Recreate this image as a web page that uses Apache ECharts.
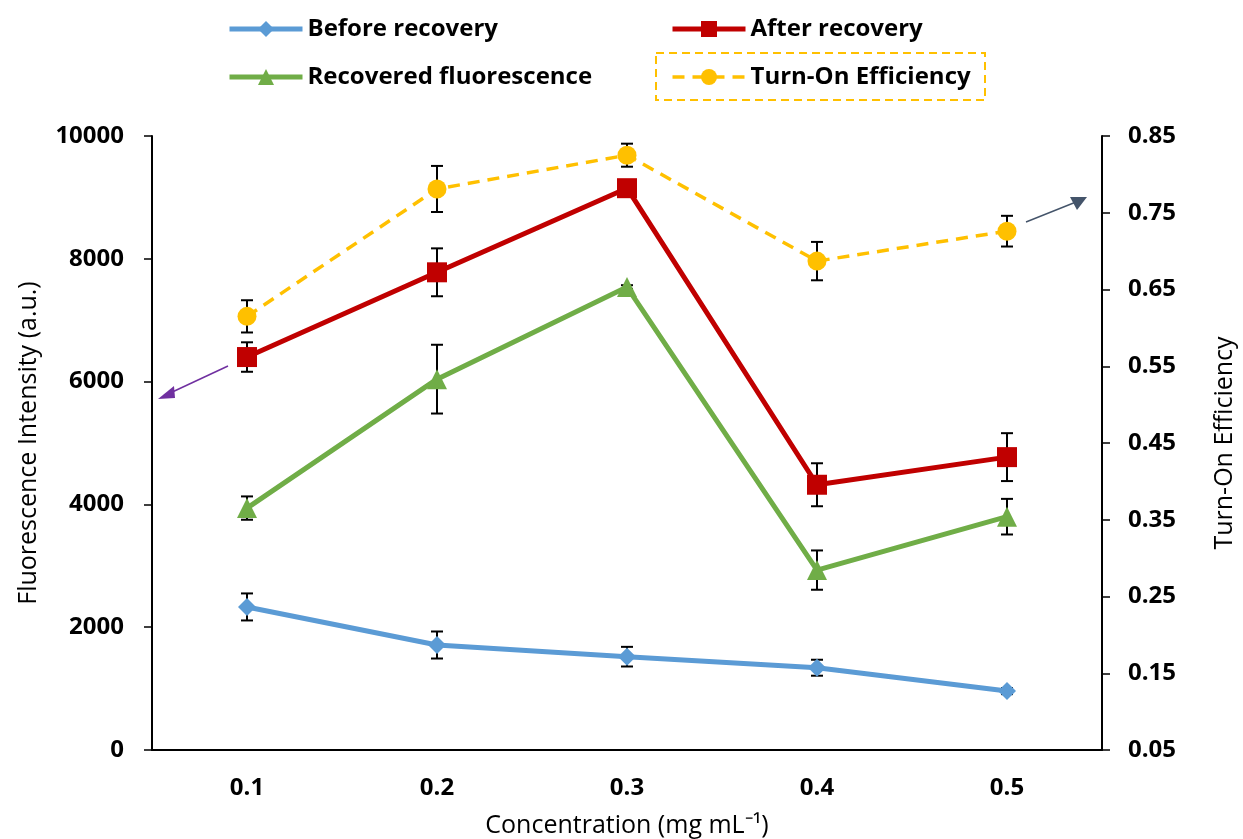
<!DOCTYPE html>
<html><head><meta charset="utf-8">
<script src="https://cdn.jsdelivr.net/npm/echarts@6/dist/echarts.min.js"></script>
<style>html,body{margin:0;padding:0;background:#fff}#c{width:1243px;height:839px}</style>
</head><body><div id="c"></div>
<script>
const categories = ['0.1','0.2','0.3','0.4','0.5'];
const beforeRecovery = [2330, 1710, 1520, 1340, 960];
const beforeErr = [220, 220, 160, 130, 50];
const afterRecovery = [6400, 7780, 9150, 4320, 4770];
const afterErr = [240, 390, 50, 350, 390];
const recovered = [3940, 6040, 7540, 2930, 3800];
const recoveredErr = [190, 560, 30, 320, 290];
const efficiency = [0.615, 0.781, 0.825, 0.687, 0.726];
const efficiencyErr = [0.021, 0.030, 0.015, 0.025, 0.020];
const leftTicks = {min: 0, max: 10000, interval: 2000};
const rightTicks = {min: 0.05, max: 0.85, interval: 0.1};

const FONT = 'Open Sans';
function errData(vals, errs){ return vals.map((v,i)=>[i, v-errs[i], v+errs[i]]); }
function errSeries(vals, errs, yIdx){
  return {
    type:'custom', yAxisIndex:yIdx, z:1, silent:true,
    encode:{x:0, y:[1,2]},
    data: errData(vals, errs),
    renderItem(params, api){
      const x = api.value(0);
      const top = api.coord([x, api.value(2)]);
      const bot = api.coord([x, api.value(1)]);
      const w = 6;
      const st = {stroke:'#000', lineWidth:2};
      return {type:'group', children:[
        {type:'line', shape:{x1:top[0],y1:top[1],x2:bot[0],y2:bot[1]}, style:st},
        {type:'line', shape:{x1:top[0]-w,y1:top[1],x2:top[0]+w,y2:top[1]}, style:st},
        {type:'line', shape:{x1:bot[0]-w,y1:bot[1],x2:bot[0]+w,y2:bot[1]}, style:st}
      ]};
    }
  };
}

const chart = echarts.init(document.getElementById('c'), null, {renderer:'canvas'});
const axisLbl = {fontFamily:FONT, fontWeight:'bold', fontSize:24, color:'#000'};
const legendText = {fontFamily:FONT, fontWeight:'bold', fontSize:24, color:'#000'};
chart.setOption({
  animation:false,
  backgroundColor:'#fff',
  grid:{left:152, right:141, top:136, bottom:89, containLabel:false, outerBoundsMode:'none'},
  legend:[
    {data:[{name:'Before recovery', lineStyle:{width:5}}, {name:'Recovered fluorescence', lineStyle:{width:5}}],
     orient:'vertical', left:222, top:12, itemWidth:73, itemHeight:20, itemGap:24, textStyle:legendText},
    {data:[{name:'After recovery', lineStyle:{width:5}}, {name:'Turn-On Efficiency', lineStyle:{width:3.5}}],
     orient:'vertical', left:665, top:12, itemWidth:73, itemHeight:20, itemGap:24, textStyle:legendText}
  ],
  xAxis:{type:'category', data:categories, boundaryGap:true,
    axisLine:{lineStyle:{color:'#000', width:2}},
    axisTick:{alignWithLabel:false, length:8, lineStyle:{color:'#000', width:1.5}},
    axisLabel:Object.assign({margin:26}, axisLbl),
    name:'Concentration (mg mL⁻¹)', nameLocation:'middle', nameGap:63,
    nameTextStyle:{fontFamily:FONT, fontSize:25, color:'#000'}
  },
  yAxis:[
    {type:'value', min:leftTicks.min, max:leftTicks.max, interval:leftTicks.interval, position:'left',
     splitLine:{show:false},
     axisLine:{show:true, lineStyle:{color:'#000', width:2}},
     axisTick:{show:true, length:8, lineStyle:{color:'#000', width:1.5}},
     axisLabel:Object.assign({margin:28, formatter:v=>String(v)}, axisLbl),
     name:'Fluorescence Intensity (a.u.)', nameLocation:'middle', nameGap:111,
     nameTextStyle:{fontFamily:FONT, fontSize:25, color:'#000'}
    },
    {type:'value', min:rightTicks.min, max:rightTicks.max, interval:rightTicks.interval, position:'right',
     splitLine:{show:false},
     axisLine:{show:true, lineStyle:{color:'#000', width:2}},
     axisTick:{show:true, length:8, lineStyle:{color:'#000', width:1.5}},
     axisLabel:Object.assign({margin:26, formatter:v=>v.toFixed(2)}, axisLbl),
     name:'Turn-On Efficiency', nameLocation:'middle', nameGap:110,
     nameTextStyle:{fontFamily:FONT, fontSize:25, color:'#000'}
    }
  ],
  series:[
    errSeries(beforeRecovery, beforeErr, 0),
    errSeries(afterRecovery, afterErr, 0),
    errSeries(recovered, recoveredErr, 0),
    errSeries(efficiency, efficiencyErr, 1),
    {name:'Before recovery', type:'line', data:beforeRecovery, yAxisIndex:0, z:3,
     symbol:'diamond', symbolSize:18, lineStyle:{color:'#5B9BD5', width:5}, itemStyle:{color:'#5B9BD5'}},
    {name:'After recovery', type:'line', data:afterRecovery, yAxisIndex:0, z:3,
     symbol:'rect', symbolSize:20, lineStyle:{color:'#C00000', width:5}, itemStyle:{color:'#C00000'}},
    {name:'Recovered fluorescence', type:'line', data:recovered, yAxisIndex:0, z:3,
     symbol:'triangle', symbolSize:20, lineStyle:{color:'#70AD47', width:5}, itemStyle:{color:'#70AD47'}},
    {name:'Turn-On Efficiency', type:'line', data:efficiency, yAxisIndex:1, z:3,
     symbol:'circle', symbolSize:19, lineStyle:{color:'#FFC000', width:3.5, type:[12,8]}, itemStyle:{color:'#FFC000'}}
  ],
  graphic:[
    {type:'rect', shape:{x:656, y:53, width:329, height:47}, style:{fill:'none', stroke:'#FFC000', lineWidth:2, lineDash:[8,5]}},
    {type:'line', shape:{x1:228, y1:366, x2:168, y2:394}, style:{stroke:'#7030A0', lineWidth:1.5}},
    {type:'polygon', shape:{points:[[158,399],[174,386],[175,398]]}, style:{fill:'#7030A0'}},
    {type:'line', shape:{x1:1026, y1:222, x2:1076, y2:202}, style:{stroke:'#44546A', lineWidth:1.5}},
    {type:'polygon', shape:{points:[[1087,197],[1070,197],[1077,210]]}, style:{fill:'#44546A'}}
  ]
});
</script></body></html>
